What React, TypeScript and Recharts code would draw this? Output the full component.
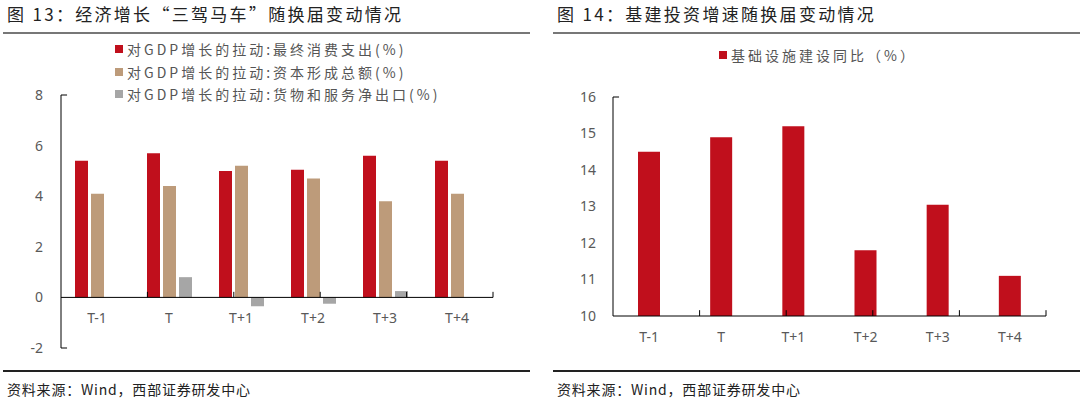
import React from 'react'
import { BarChart, Bar, XAxis, YAxis, Legend, ReferenceLine } from 'recharts'

// 数据
const periods = ['T-1', 'T', 'T+1', 'T+2', 'T+3', 'T+4']
const consumption = [5.4, 5.7, 5.0, 5.05, 5.6, 5.4]
const capital = [4.1, 4.4, 5.2, 4.7, 3.8, 4.1]
const netExports = [0, 0.8, -0.35, -0.25, 0.25, 0]
const infra = [14.5, 14.9, 15.2, 11.8, 13.05, 11.1]
const leftTicks = [-2, 0, 2, 4, 6, 8]
const rightTicks = [10, 11, 12, 13, 14, 15, 16]
const boundaries = [1, 2, 3, 4, 5, 6]

const names = [
    '对GDP增长的拉动:最终消费支出(%)',
    '对GDP增长的拉动:资本形成总额(%)',
    '对GDP增长的拉动:货物和服务净出口(%)'
]
const infraName = '基础设施建设同比（%）'

const leftData = periods.map((p, i) => ({ name: p, c: consumption[i], k: capital[i], n: netExports[i] }))
const rightData = periods.map((p, i) => ({ name: p, v: infra[i] }))

const cjk = '"Noto Sans CJK SC", "Noto Sans", sans-serif'
const tickStyle = { fill: '#595959', fontSize: 14, fontFamily: '"Noto Sans", sans-serif' }

const LegendList = ({ payload }: any) => {
    const items = (payload || []).slice().sort((a: any, b: any) => names.indexOf(a.value) - names.indexOf(b.value))
    return (
        <div style={{ fontFamily: cjk, fontSize: 14, color: '#555', letterSpacing: 3 }}>
            {items.map((p: any) => (
                <div key={p.value} style={{ display: 'flex', alignItems: 'center', height: 22.5, whiteSpace: 'nowrap' }}>
                    <span style={{ display: 'inline-block', width: 8, height: 8, background: p.color, marginRight: 4 }} />
                    <span>{p.value}</span>
                </div>
            ))}
        </div>
    )
}

const Title = ({ text, left }: { text: string; left: number }) => (
    <div style={{ position: 'absolute', left, top: 3, fontFamily: cjk, fontSize: 17, color: '#222', letterSpacing: 2.3, whiteSpace: 'nowrap', lineHeight: '22px' }}>
        {text}
    </div>
)

const Rule = ({ left, width, top, h, color }: any) => (
    <div style={{ position: 'absolute', left, top, width, height: h, background: color }} />
)

const Footer = ({ left }: { left: number }) => (
    <div style={{ position: 'absolute', left, top: 379, fontFamily: cjk, fontSize: 14, color: '#222', letterSpacing: 0.8, whiteSpace: 'nowrap', lineHeight: '20px' }}>
        资料来源：Wind，西部证券研发中心
    </div>
)

const App: React.FC = () => {
    return (
        <div style={{ position: 'absolute', left: 0, top: 0, width: 1080, height: 398, background: '#fff', overflow: 'hidden' }}>
            <Title text="图 13：经济增长“三驾马车”随换届变动情况" left={7} />
            <Title text="图 14：基建投资增速随换届变动情况" left={557} />
            <Rule left={3} width={527} top={32} h={1.5} color="#777" />
            <Rule left={553} width={527} top={32} h={1.5} color="#777" />
            <Rule left={3} width={527} top={370} h={2} color="#222" />
            <Rule left={553} width={527} top={370} h={2} color="#222" />
            <Footer left={7} />
            <Footer left={557} />

            <div style={{ position: 'absolute', left: 0, top: 0 }}>
                <BarChart width={540} height={398} data={leftData} margin={{ top: 95, right: 47, bottom: 20, left: 11 }} barGap={3} barSize={13}>
                    <XAxis dataKey="name" axisLine={false} tickLine={false} tickSize={0} tickMargin={-35} tick={tickStyle} interval={0} />
                    <XAxis xAxisId="b" type="number" domain={[0, 6]} hide />
                    <YAxis domain={[-2, 8]} ticks={leftTicks} width={50} axisLine={{ stroke: '#000' }} tickLine={false} tickSize={0} tickMargin={18} tick={tickStyle} />
                    <Legend layout="vertical" align="center" verticalAlign="middle" content={<LegendList />} wrapperStyle={{ top: 38, left: 115, width: 420 }} />
                    <Bar dataKey="c" name={names[0]} fill="#C00F1C" isAnimationActive={false} />
                    <Bar dataKey="k" name={names[1]} fill="#BD9B7A" isAnimationActive={false} />
                    <Bar dataKey="n" name={names[2]} fill="#A6A6A6" isAnimationActive={false} />
                    <ReferenceLine y={0} stroke="#000" />
                    {boundaries.map(b => (
                        <ReferenceLine key={b} xAxisId="b" segment={[{ x: b, y: 0 }, { x: b, y: 0.22 }]} stroke="#000" />
                    ))}
                    <ReferenceLine xAxisId="b" segment={[{ x: 0, y: 8 }, { x: 0.07, y: 8 }]} stroke="#000" />
                    <ReferenceLine xAxisId="b" segment={[{ x: 0, y: -2 }, { x: 0.07, y: -2 }]} stroke="#000" />
                </BarChart>
            </div>

            <div style={{ position: 'absolute', left: 540, top: 0 }}>
                <BarChart width={540} height={398} data={rightData} margin={{ top: 97, right: 34, bottom: 52, left: 23 }} barSize={22}>
                    <XAxis dataKey="name" axisLine={{ stroke: '#000' }} tickLine={false} tickSize={0} tickMargin={16} tick={tickStyle} interval={0} />
                    <XAxis xAxisId="b" type="number" domain={[0, 6]} hide />
                    <YAxis domain={[10, 16]} ticks={rightTicks} width={50} axisLine={{ stroke: '#000' }} tickLine={false} tickSize={0} tickMargin={17} tick={tickStyle} />
                    <Legend layout="vertical" align="center" verticalAlign="middle" content={<LegendList />} wrapperStyle={{ top: 44, left: 179, width: 300 }} />
                    <Bar dataKey="v" name={infraName} fill="#C00F1C" isAnimationActive={false} />
                    {boundaries.map(b => (
                        <ReferenceLine key={b} xAxisId="b" segment={[{ x: b, y: 10 }, { x: b, y: 10.16 }]} stroke="#000" />
                    ))}
                    <ReferenceLine xAxisId="b" segment={[{ x: 0, y: 16 }, { x: 0.07, y: 16 }]} stroke="#000" />
                </BarChart>
            </div>
        </div>
    )
}

export default App
